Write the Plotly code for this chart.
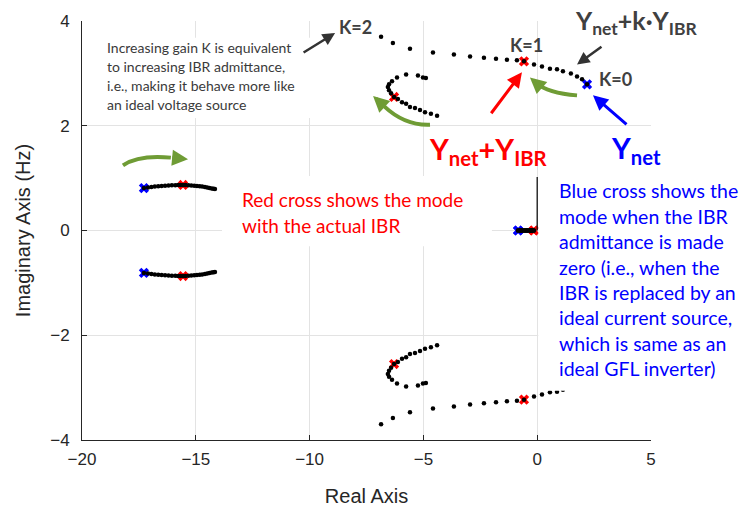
import plotly.graph_objects as go

# ---------------- root-locus data (real part, imaginary part in Hz) ----------------
# upper high-frequency branch, K decreasing from 2 (left end) to 0 (right end)
hf_re = [-6.86, -6.34, -5.59, -4.58, -3.66, -2.95, -2.34, -1.81, -1.33, -0.89,
         -0.58, -0.14, 0.21, 0.56, 0.87, 1.13, 1.48, 1.75, 1.97, 2.19]
hf_im = [3.70, 3.58, 3.47, 3.40, 3.36, 3.32, 3.30, 3.28, 3.26, 3.25,
         3.23, 3.17, 3.13, 3.09, 3.08, 3.04, 3.00, 2.94, 2.89, 2.79]

# S-shaped mid-frequency branch
s_re = [-4.89, -5.02, -5.24, -5.76, -6.16, -6.38, -6.51, -6.56, -6.51, -6.42,
        -6.29, -6.12, -5.94, -5.76, -5.59, -5.37, -5.15, -4.93, -4.67, -4.40]
s_im = [2.91, 2.92, 2.96, 2.98, 2.92, 2.85, 2.79, 2.74, 2.68, 2.62,
        2.55, 2.51, 2.45, 2.42, 2.36, 2.34, 2.30, 2.26, 2.23, 2.19]

# low-frequency, well damped branch
lf_re = [-17.28, -17.10, -16.95, -16.80, -16.65, -16.50, -16.35, -16.20, -16.05, -15.90,
         -15.78, -15.67, -15.56, -15.45, -15.33, -15.20, -15.07, -14.95, -14.83, -14.72,
         -14.60, -14.50, -14.40, -14.30, -14.22, -14.16]
lf_im = [0.81, 0.82, 0.83, 0.84, 0.845, 0.85, 0.855, 0.86, 0.862, 0.865,
         0.867, 0.868, 0.87, 0.868, 0.865, 0.86, 0.855, 0.85, 0.845, 0.84,
         0.83, 0.82, 0.81, 0.80, 0.795, 0.79]

# real-axis branch near the origin
ra_re = [-0.84, -0.78, -0.72, -0.66, -0.60, -0.54, -0.48, -0.42, -0.36, -0.30, -0.25, -0.20, -0.15]
ra_im = [0.0] * len(ra_re)

# branch leaving the origin along the imaginary axis
ia_re = [0.0, 0.0]
ia_im = [0.0, 1.02]

# modes with the actual IBR (K = 1) and with zero IBR admittance (K = 0)
k1_re = [-0.58, -6.29, -15.56, -0.15]
k1_im = [3.23, 2.55, 0.87, 0.0]
k0_re = [2.19, -17.28, -0.84]
k0_im = [2.79, 0.81, 0.0]

x_ticks = [-20, -15, -10, -5, 0, 5]
y_ticks = [-4, -2, 0, 2, 4]


def with_conjugate(re, im):
    """Eigenvalues come in conjugate pairs: append the mirrored half."""
    return list(re) + list(re), list(im) + [-v for v in im]


GREEN = "#6f9c35"
DARK = "#404040"
RED = "#ff0000"
BLUE = "#0000ff"
TXT_FONT = "Lato"

fig = go.Figure()

# crosses first, so the locus dots stay visible in their centres
for re, im, col in [(k1_re, k1_im, RED), (k0_re, k0_im, BLUE)]:
    cr, ci = with_conjugate(re, im)
    fig.add_trace(go.Scatter(x=cr, y=ci, mode="markers",
                             marker=dict(symbol="x", size=9, color=col,
                                         line=dict(width=0)),
                             hoverinfo="skip", showlegend=False))

fig.add_trace(go.Scatter(x=ia_re, y=ia_im, mode="lines",
                         line=dict(color="#111111", width=1.3),
                         hoverinfo="skip", showlegend=False))

for re, im in [(hf_re, hf_im), (s_re, s_im), (lf_re, lf_im), (ra_re, ra_im)]:
    cr, ci = with_conjugate(re, im)
    fig.add_trace(go.Scatter(x=cr, y=ci, mode="markers",
                             marker=dict(size=4.5, color="black"),
                             hoverinfo="skip", showlegend=False))

shapes = []
annotations = []

# white panels behind the explanatory notes (they hide grid and locus behind them)
for x0, x1, y0, y1 in [(-19.43, -9.63, 2.15, 3.68),
                       (-13.85, -1.99, -0.30, 1.04),
                       (0.05, 8.5, -3.06, 1.02)]:
    shapes.append(dict(type="rect", xref="x", yref="y", x0=x0, x1=x1, y0=y0, y1=y1,
                       fillcolor="white", line=dict(width=0), layer="above"))


def text_block(lines, x, y_top, dy, color, size):
    for i, line in enumerate(lines):
        annotations.append(dict(x=x, y=y_top - i * dy, xref="x", yref="y",
                                text=line, showarrow=False, xanchor="left",
                                yanchor="middle",
                                font=dict(family=TXT_FONT, size=size, color=color)))


text_block(["Increasing gain K is equivalent",
            "to increasing IBR admittance,",
            "i.e., making it behave more like",
            "an ideal voltage source"],
           -19.0, 3.49, 0.36, "#3a3a3a", 14)

text_block(["Red cross shows the mode",
            "with the actual IBR"],
           -13.05, 0.585, 0.49, RED, 19)

text_block(["Blue cross shows the",
            "mode when the IBR",
            "admittance is made",
            "zero (i.e., when the",
            "IBR is replaced by an",
            "ideal current source,",
            "which is same as an",
            "ideal GFL inverter)"],
           0.85, 0.755, 0.485, BLUE, 19.5)


def label(text, x, y, color, size, bg=None):
    a = dict(x=x, y=y, xref="x", yref="y", text=text, showarrow=False,
             xanchor="center", yanchor="middle",
             font=dict(family=TXT_FONT, size=size, color=color))
    if bg:
        a["bgcolor"] = bg
    annotations.append(a)


label("<b>K=2</b>", -8.0, 3.89, DARK, 18)
label("<b>K=1</b>", -0.49, 3.55, DARK, 18)
label("<b>K=0</b>", 3.46, 2.89, DARK, 18)
label("<b>Y<sub>net</sub>+k·Y<sub>IBR</sub></b>", 4.34, 3.98, DARK, 25)
label("<b>Y<sub>net</sub>+Y<sub>IBR</sub></b>", -2.12, 1.52, RED, 29)
label("<b>Y<sub>net</sub></b>", 4.34, 1.55, BLUE, 29, bg="white")


def arrow(tail, tip, color, width, head=2, size=1.0):
    annotations.append(dict(x=tip[0], y=tip[1], ax=tail[0], ay=tail[1],
                            xref="x", yref="y", axref="x", ayref="y",
                            text="", showarrow=True, arrowhead=head,
                            arrowsize=size, arrowwidth=width, arrowcolor=color,
                            standoff=0, startstandoff=0))


arrow((-10.33, 3.38), (-8.88, 3.77), "#333333", 2.5)
arrow((2.89, 3.53), (1.75, 3.17), "#333333", 2.5)
arrow((-2.07, 2.21), (-0.67, 3.02), RED, 3)
arrow((3.99, 2.00), (2.45, 2.58), BLUE, 3)


def curved_arrow(p0, ctrl, p1, color):
    # stop the body just short of the tip so the head stays sharp
    bx = p1[0] - 0.35 * (p1[0] - ctrl[0])
    by = p1[1] - 0.35 * (p1[1] - ctrl[1])
    shapes.append(dict(type="path", xref="x", yref="y",
                       path=f"M {p0[0]},{p0[1]} Q {ctrl[0]},{ctrl[1]} {bx},{by}",
                       line=dict(color=color, width=4), layer="above"))
    arrow((bx, by), p1, color, 4, head=2, size=0.8)


curved_arrow((1.75, 2.58), (0.47, 2.62), (-0.32, 2.92), GREEN)
curved_arrow((-4.71, 2.02), (-5.81, 2.00), (-7.21, 2.57), GREEN)
curved_arrow((-18.20, 1.245), (-17.50, 1.45), (-15.34, 1.36), GREEN)

axis_common = dict(showgrid=True, gridcolor="#e3e3e3", gridwidth=1,
                   zeroline=False, showline=True, linecolor="#262626", linewidth=1,
                   ticks="inside", ticklen=5, tickcolor="#262626", tickwidth=1,
                   tickfont=dict(family="Liberation Sans", size=17, color="#262626"),
                   mirror=False)

fig.update_layout(
    width=741, height=515,
    margin=dict(l=82, r=90, t=20, b=71),
    paper_bgcolor="white", plot_bgcolor="white",
    shapes=shapes, annotations=annotations,
    xaxis=dict(range=[-20, 5], tickvals=x_ticks, ticklabelstandoff=4,
               title=dict(text="Real Axis", standoff=20,
                          font=dict(family="Liberation Sans", size=20, color="#262626")),
               **axis_common),
    yaxis=dict(range=[-4, 4], tickvals=y_ticks, ticklabelstandoff=8,
               title=dict(text="Imaginary Axis (Hz)", standoff=14,
                          font=dict(family="Liberation Sans", size=20, color="#262626")),
               **axis_common),
)

fig.write_html("out.html")
